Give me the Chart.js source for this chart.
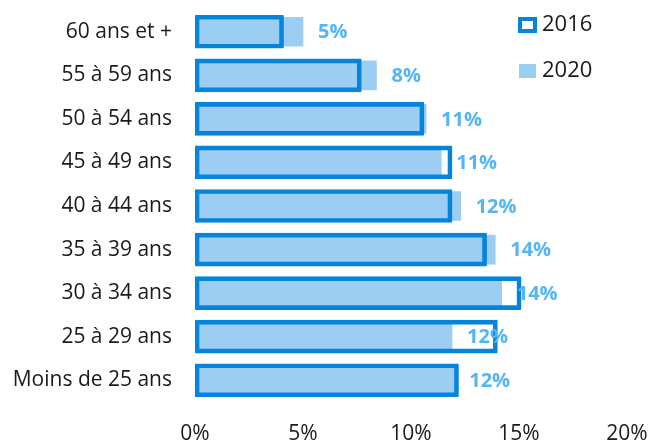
<!DOCTYPE html>
<html lang="fr">
<head>
<meta charset="utf-8">
<title>Répartition par tranche d'âge</title>
<script src="https://cdn.jsdelivr.net/npm/chart.js@4.4.0/dist/chart.umd.min.js"></script>
<style>
  html, body { margin: 0; padding: 0; background: #ffffff; }
  #conteneur { width: 649px; height: 440px; position: relative; }
</style>
</head>
<body>
<div id="conteneur"><canvas id="grafique"></canvas></div>
<script>
// Tranches d'âge, de haut en bas
var tranches = ['60 ans et +', '55 à 59 ans', '50 à 54 ans', '45 à 49 ans', '40 à 44 ans',
                '35 à 39 ans', '30 à 34 ans', '25 à 29 ans', 'Moins de 25 ans'];

// Parts en %
var valeurs2016 = [4.1, 7.7, 10.6, 11.9, 11.9, 13.5, 15.1, 14.0, 12.2];
var valeurs2020 = [5.0, 8.4, 10.7, 11.4, 12.3, 13.9, 14.2, 11.9, 12.0];

// Graduations de l'axe horizontal
var graduations = [0, 5, 10, 15, 20];

// Couleurs
var bleuFonce = '#0584DC';
var bleuClair = '#9CCDF2';
var bleuEtiquette = '#52B5F7';
var couleurTexte = '#1a1a1a';

Chart.defaults.font.family = '"Open Sans", sans-serif';

// Plugin maison : étiquettes de valeur 2020 et légende verticale
var pluginEtiquettes = {
    id: 'etiquettes',
    afterDatasetsDraw: function(chart) {
        var ctx = chart.ctx;
        var meta = chart.getDatasetMeta(1);
        ctx.save();

        // Valeurs 2020 à droite des barres
        ctx.font = 'bold 20px "Open Sans"';
        ctx.fillStyle = bleuEtiquette;
        ctx.textAlign = 'left';
        ctx.textBaseline = 'middle';
        for (var i = 0; i < meta.data.length; i++) {
            var barre = meta.data[i];
            ctx.fillText(Math.round(valeurs2020[i]) + '%', barre.x + 15, barre.y + 1);
        }

        // Légende
        ctx.strokeStyle = bleuFonce;
        ctx.lineWidth = 4;
        ctx.strokeRect(520, 19, 15, 12);
        ctx.fillStyle = bleuClair;
        ctx.fillRect(519, 64, 17, 14);

        ctx.font = '22px "Open Sans"';
        ctx.fillStyle = couleurTexte;
        ctx.fillText(chart.data.datasets[0].label, 542, 25);
        ctx.fillText(chart.data.datasets[1].label, 542, 71);
        ctx.restore();
    }
};

var ctx = document.getElementById('grafique').getContext('2d');

var graphique = new Chart(ctx, {
    type: 'bar',
    data: {
        labels: tranches,
        datasets: [{
            label: '2016',
            data: valeurs2016,
            backgroundColor: 'rgba(0,0,0,0)',
            borderColor: bleuFonce,
            borderWidth: 4,
            borderSkipped: false,
            borderRadius: 1,
            barThickness: 33,
            grouped: false
        }, {
            label: '2020',
            data: valeurs2020,
            backgroundColor: bleuClair,
            borderWidth: 0,
            barThickness: 29,
            grouped: false
        }]
    },
    options: {
        indexAxis: 'y',
        responsive: true,
        maintainAspectRatio: false,
        animation: false,
        layout: { padding: { top: 10, right: 22, left: 0, bottom: 0 } },
        plugins: {
            legend: { display: false },
            tooltip: { enabled: false }
        },
        scales: {
            x: {
                min: graduations[0],
                max: graduations[graduations.length - 1],
                afterBuildTicks: function(axe) {
                    axe.ticks = graduations.map(function(v) { return { value: v }; });
                },
                afterFit: function(axe) {
                    axe.height = 38;
                    axe.paddingLeft = 0;
                    axe.paddingRight = 0;
                },
                grid: { display: false, drawTicks: false },
                border: { display: false },
                ticks: {
                    padding: 19,
                    color: couleurTexte,
                    font: { size: 21 },
                    callback: function(v) { return v + '%'; }
                }
            },
            y: {
                afterFit: function(axe) {
                    axe.width = 195;
                    axe.paddingTop = 0;
                    axe.paddingBottom = 0;
                },
                grid: { display: false, drawTicks: false },
                border: { display: false },
                ticks: {
                    padding: 23,
                    color: couleurTexte,
                    font: { size: 21 }
                }
            }
        }
    },
    plugins: [pluginEtiquettes]
});
</script>
</body>
</html>
